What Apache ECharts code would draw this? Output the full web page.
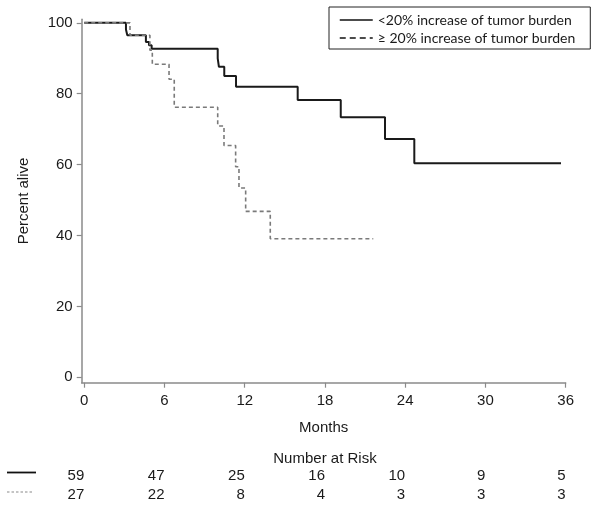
<!DOCTYPE html>
<html>
<head>
<meta charset="utf-8">
<script src="https://cdn.jsdelivr.net/npm/echarts@6/dist/echarts.min.js"></script>
<style>html,body{margin:0;padding:0;background:#fff;}#c{width:600px;height:512px;}</style>
</head>
<body>
<div id="c"></div>
<script>
// ---- data ----
const seriesNames = ['<20% increase of tumor burden', '\u2265 20% increase of tumor burden'];
const lowMonths   = [0, 3.12, 3.22, 4.61, 4.84, 5.04, 9.98, 10.07, 10.47, 11.35, 15.96, 19.18, 22.49, 24.68, 35.65];
const lowSurv     = [100, 98.1, 96.5, 94.6, 93.7, 92.7, 90.0, 87.6, 85.0, 82.0, 78.2, 73.4, 67.2, 60.4, 60.4];
const highMonths  = [0, 3.42, 4.91, 5.09, 6.34, 6.73, 9.98, 10.45, 11.32, 11.57, 12.07, 13.91, 21.61];
const highSurv    = [100, 96.5, 92.3, 88.3, 84.1, 76.2, 70.9, 65.4, 59.4, 53.4, 46.8, 39.1, 39.1];
const xTicks = [0, 6, 12, 18, 24, 30, 36];
const yTicks = [0, 20, 40, 60, 80, 100];
const riskLow  = [59, 47, 25, 16, 10, 9, 5];
const riskHigh = [27, 22, 8, 4, 3, 3, 3];

const FONT = '"Liberation Sans", Arial, sans-serif';
const LEGFONT = 'Lato, "Open Sans", sans-serif';
const axisGrey = '#8a8a8a';
const txt = '#1a1a1a';

const chart = echarts.init(document.getElementById('c'), null, {renderer: 'canvas'});
const zip = (a, b) => a.map((v, i) => [v, b[i]]);

chart.setOption({
  animation: false,
  backgroundColor: '#fff',
  grid: {left: 81.7, right: 34.3, top: 19.3, bottom: 129.3, containLabel: false},
  legend: {
    left: 329, top: 7, orient: 'vertical',
    borderColor: '#222', borderWidth: 1,
    padding: [6, 15, 4, 10],
    itemWidth: 33, itemHeight: 14, itemGap: 4,
    itemStyle: {opacity: 0},
    textStyle: {fontFamily: LEGFONT, fontSize: 14, color: txt},
    data: [
      {name: seriesNames[0], itemStyle: {opacity: 0}, lineStyle: {color: '#111', width: 1.5, type: 'solid'}},
      {name: seriesNames[1], itemStyle: {opacity: 0}, lineStyle: {color: '#111', width: 1.5, type: [6, 4]}}
    ]
  },
  xAxis: {
    type: 'value', min: -0.19, max: 36,
    name: 'Months', nameLocation: 'middle', nameGap: 38,
    nameTextStyle: {fontFamily: FONT, fontSize: 15, color: txt},
    axisLine: {show: true, onZero: false, lineStyle: {color: axisGrey, width: 1.5}},
    axisTick: {show: true, length: 5, lineStyle: {color: axisGrey, width: 1.2}, customValues: xTicks},
    axisLabel: {customValues: xTicks, margin: 11, fontFamily: FONT, fontSize: 15, color: txt},
    splitLine: {show: false}
  },
  yAxis: {
    type: 'value', min: -1.52, max: 101,
    name: 'Percent alive', nameLocation: 'middle', nameGap: 50, nameRotate: 90,
    nameTextStyle: {fontFamily: FONT, fontSize: 15, color: txt},
    axisLine: {show: true, onZero: false, lineStyle: {color: axisGrey, width: 1.5}},
    axisTick: {show: true, length: 5, lineStyle: {color: axisGrey, width: 1.2}, customValues: yTicks},
    axisLabel: {customValues: yTicks, margin: 9, fontFamily: FONT, fontSize: 15, color: txt},
    splitLine: {show: false}
  },
  series: [
    {name: seriesNames[0], type: 'line', step: 'end', symbol: 'none', data: zip(lowMonths, lowSurv),
     lineStyle: {color: '#1a1a1a', width: 2}, itemStyle: {color: '#1a1a1a'}},
    {name: seriesNames[1], type: 'line', step: 'end', symbol: 'none', data: zip(highMonths, highSurv),
     lineStyle: {color: '#7a7a7a', width: 1.6, type: [4, 3]}, itemStyle: {color: '#7a7a7a'}}
  ]
});

// Number at risk table, positioned through the x axis scale
const gfx = [];
const xMid = chart.convertToPixel({xAxisIndex: 0}, 18);
gfx.push({type: 'text', x: xMid, y: 459, style: {text: 'Number at Risk', font: '15px ' + FONT, fill: txt, align: 'center', verticalAlign: 'middle'}});
xTicks.forEach((m, i) => {
  const px = chart.convertToPixel({xAxisIndex: 0}, m);
  gfx.push({type: 'text', x: px, y: 476, style: {text: String(riskLow[i]), font: '15px ' + FONT, fill: txt, align: 'right', verticalAlign: 'middle'}});
  gfx.push({type: 'text', x: px, y: 495, style: {text: String(riskHigh[i]), font: '15px ' + FONT, fill: txt, align: 'right', verticalAlign: 'middle'}});
});
gfx.push({type: 'line', shape: {x1: 7, y1: 472.5, x2: 36, y2: 472.5}, style: {stroke: '#111', lineWidth: 1.8}});
gfx.push({type: 'line', shape: {x1: 7, y1: 492, x2: 34, y2: 492}, style: {stroke: '#8a8a8a', lineWidth: 1.2, lineDash: [2.5, 2]}});
chart.setOption({graphic: gfx});
</script>
</body>
</html>
